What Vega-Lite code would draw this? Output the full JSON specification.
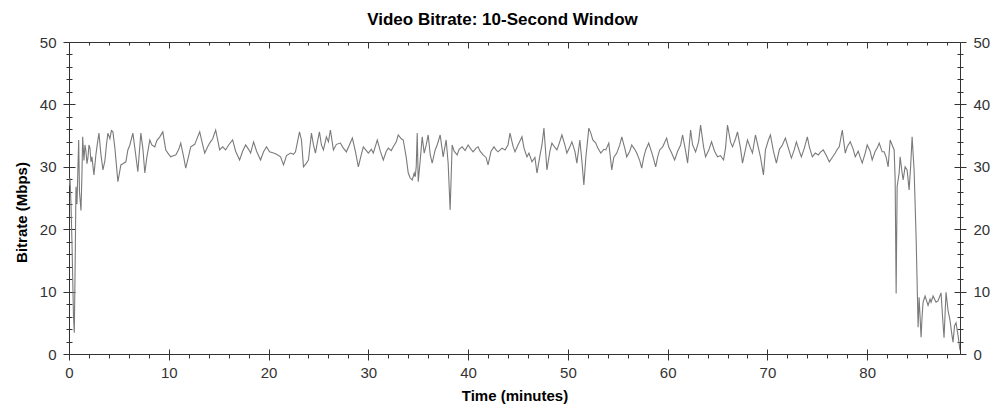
{
  "$schema": "https://vega.github.io/schema/vega-lite/v6.json",
  "autosize": {"type": "none"},
  "padding": {"left": 69, "top": 42, "right": 44, "bottom": 66},
  "width": 891,
  "height": 312,
  "background": "white",
  "config": {
    "font": "Liberation Sans",
    "view": {"stroke": null},
    "axis": {
      "domainColor": "#333333",
      "tickColor": "#333333",
      "labelColor": "#333333",
      "labelFont": "Liberation Sans",
      "labelFontSize": 15,
      "titleFont": "Liberation Sans",
      "titleFontSize": 15,
      "titleFontWeight": "bold",
      "titleColor": "#000000",
      "grid": false,
      "labelOverlap": false,
      "labelFlush": false
    }
  },
  "title": {"text": "Video Bitrate: 10-Second Window", "fontSize": 17, "fontWeight": "bold", "font": "Liberation Sans", "color": "#000000", "offset": 6, "dx": -12},
  "data": {"values": [
    {"t":0.0,"v":27},{"t":0.1,"v":28.2},{"t":0.2,"v":24},{"t":0.3,"v":17.8},{"t":0.45,"v":6},{"t":0.53,"v":3.4},{"t":0.6,"v":12},{"t":0.7,"v":26.8},{"t":0.8,"v":24},{"t":0.97,"v":34.3},{"t":1.05,"v":26},{"t":1.2,"v":23},{"t":1.3,"v":29},{"t":1.37,"v":34.8},{"t":1.5,"v":31},{"t":1.6,"v":33.5},{"t":1.7,"v":32.5},{"t":1.8,"v":30.5},{"t":1.9,"v":31.5},{"t":2.0,"v":33.5},{"t":2.1,"v":33},{"t":2.2,"v":30.8},{"t":2.3,"v":31.6},{"t":2.5,"v":28.7},{"t":2.7,"v":32},{"t":2.85,"v":33.8},{"t":3.0,"v":35.4},{"t":3.2,"v":32},{"t":3.4,"v":29.5},{"t":3.6,"v":31},{"t":3.75,"v":33.5},{"t":3.9,"v":35.4},{"t":4.1,"v":34.5},{"t":4.25,"v":35.8},{"t":4.4,"v":35.6},{"t":4.6,"v":33},{"t":4.9,"v":27.6},{"t":5.2,"v":30.3},{"t":5.4,"v":30.5},{"t":5.7,"v":30.8},{"t":5.9,"v":32.7},{"t":6.1,"v":33.5},{"t":6.4,"v":35.4},{"t":6.6,"v":33},{"t":6.9,"v":29.2},{"t":7.2,"v":35.4},{"t":7.4,"v":33},{"t":7.6,"v":29.0},{"t":7.8,"v":31.5},{"t":8.1,"v":34.3},{"t":8.3,"v":33.5},{"t":8.6,"v":33.2},{"t":8.8,"v":34.2},{"t":9.1,"v":34.8},{"t":9.4,"v":35.6},{"t":9.7,"v":32.7},{"t":10.0,"v":32.0},{"t":10.2,"v":31.6},{"t":10.5,"v":31.8},{"t":10.7,"v":31.9},{"t":11.0,"v":32.8},{"t":11.2,"v":33.8},{"t":11.5,"v":31.5},{"t":11.7,"v":29.8},{"t":12.0,"v":31.8},{"t":12.2,"v":33.2},{"t":12.6,"v":33.6},{"t":13.1,"v":35.6},{"t":13.4,"v":33.5},{"t":13.6,"v":32.2},{"t":13.9,"v":33.2},{"t":14.1,"v":33.8},{"t":14.4,"v":34.5},{"t":14.7,"v":35.9},{"t":15.1,"v":32.7},{"t":15.4,"v":33.2},{"t":15.7,"v":32.7},{"t":16.0,"v":33.5},{"t":16.4,"v":34.3},{"t":16.7,"v":32.5},{"t":17.1,"v":31.1},{"t":17.4,"v":32.5},{"t":17.7,"v":33.5},{"t":18.0,"v":32.8},{"t":18.2,"v":32.2},{"t":18.5,"v":34.0},{"t":18.8,"v":32.5},{"t":19.2,"v":31.1},{"t":19.5,"v":32.4},{"t":19.8,"v":33.2},{"t":20.1,"v":32.4},{"t":20.5,"v":32.2},{"t":20.8,"v":32.0},{"t":21.2,"v":31.6},{"t":21.5,"v":30.3},{"t":21.8,"v":31.8},{"t":22.2,"v":32.2},{"t":22.5,"v":32.0},{"t":22.7,"v":32.4},{"t":22.9,"v":34},{"t":23.1,"v":35.6},{"t":23.3,"v":34.3},{"t":23.5,"v":30.0},{"t":23.8,"v":30.6},{"t":24.0,"v":31.1},{"t":24.3,"v":35.4},{"t":24.5,"v":33.5},{"t":24.7,"v":32.2},{"t":24.9,"v":34},{"t":25.1,"v":35.6},{"t":25.3,"v":33.5},{"t":25.5,"v":32.7},{"t":25.8,"v":34.8},{"t":26.0,"v":34},{"t":26.2,"v":35.9},{"t":26.5,"v":32.7},{"t":26.8,"v":33.6},{"t":27.2,"v":33.8},{"t":27.5,"v":33},{"t":27.8,"v":32.4},{"t":28.1,"v":33.5},{"t":28.4,"v":34.6},{"t":28.7,"v":32.5},{"t":29.0,"v":30.0},{"t":29.3,"v":32},{"t":29.5,"v":33.2},{"t":29.8,"v":32.6},{"t":30.0,"v":32.2},{"t":30.3,"v":32.8},{"t":30.5,"v":32.2},{"t":30.9,"v":34.3},{"t":31.2,"v":32.5},{"t":31.5,"v":31.1},{"t":31.8,"v":32.5},{"t":32.0,"v":33.0},{"t":32.3,"v":32.6},{"t":32.5,"v":33.2},{"t":32.8,"v":34},{"t":33.0,"v":35.1},{"t":33.3,"v":34.5},{"t":33.5,"v":34.3},{"t":33.8,"v":31.5},{"t":34.0,"v":29.0},{"t":34.2,"v":28.2},{"t":34.4,"v":27.9},{"t":34.6,"v":29},{"t":34.7,"v":28.4},{"t":34.8,"v":30.0},{"t":34.9,"v":35.4},{"t":35.0,"v":27.6},{"t":35.2,"v":31},{"t":35.4,"v":34.8},{"t":35.6,"v":32.2},{"t":35.8,"v":33.5},{"t":36.0,"v":35.1},{"t":36.2,"v":32},{"t":36.4,"v":30.6},{"t":36.7,"v":32.7},{"t":36.9,"v":33.5},{"t":37.2,"v":35.1},{"t":37.5,"v":31.6},{"t":37.8,"v":34.3},{"t":38.0,"v":30.6},{"t":38.2,"v":23.1},{"t":38.4,"v":33.5},{"t":38.6,"v":32.5},{"t":38.9,"v":31.9},{"t":39.1,"v":32.8},{"t":39.4,"v":33.2},{"t":39.7,"v":32.6},{"t":40.0,"v":33.5},{"t":40.3,"v":32.8},{"t":40.5,"v":32.4},{"t":40.8,"v":33},{"t":41.0,"v":33.2},{"t":41.2,"v":32.5},{"t":41.5,"v":31.9},{"t":41.8,"v":31.5},{"t":42.0,"v":30.3},{"t":42.3,"v":32.5},{"t":42.6,"v":33.2},{"t":42.8,"v":32.7},{"t":43.0,"v":32.4},{"t":43.4,"v":33},{"t":43.7,"v":32.7},{"t":44.0,"v":33.5},{"t":44.2,"v":35.4},{"t":44.5,"v":33.3},{"t":44.7,"v":32.4},{"t":45.0,"v":33.5},{"t":45.4,"v":34.8},{"t":45.6,"v":33},{"t":45.9,"v":31.6},{"t":46.1,"v":32.2},{"t":46.4,"v":30.8},{"t":46.7,"v":31.5},{"t":46.9,"v":29.0},{"t":47.2,"v":31.8},{"t":47.4,"v":33.5},{"t":47.6,"v":36.2},{"t":47.9,"v":29.5},{"t":48.2,"v":32.5},{"t":48.4,"v":33.8},{"t":48.7,"v":33.1},{"t":48.9,"v":32.7},{"t":49.1,"v":33.6},{"t":49.4,"v":35.1},{"t":49.7,"v":33.5},{"t":49.9,"v":32.2},{"t":50.2,"v":33.2},{"t":50.4,"v":34.0},{"t":50.7,"v":32.5},{"t":50.9,"v":30.6},{"t":51.2,"v":34.3},{"t":51.4,"v":31},{"t":51.6,"v":27.1},{"t":51.8,"v":31.5},{"t":52.1,"v":36.2},{"t":52.3,"v":35.4},{"t":52.5,"v":34.3},{"t":52.8,"v":33.8},{"t":53.0,"v":33},{"t":53.3,"v":32.2},{"t":53.6,"v":32.8},{"t":53.8,"v":32.7},{"t":54.1,"v":33.8},{"t":54.4,"v":29.5},{"t":54.6,"v":31.5},{"t":54.9,"v":32.2},{"t":55.2,"v":33.5},{"t":55.4,"v":34.8},{"t":55.7,"v":33},{"t":55.9,"v":31.6},{"t":56.2,"v":32.5},{"t":56.4,"v":33.5},{"t":56.7,"v":32.8},{"t":56.9,"v":32.2},{"t":57.2,"v":31},{"t":57.4,"v":29.8},{"t":57.6,"v":31.5},{"t":57.8,"v":32.7},{"t":58.1,"v":33.8},{"t":58.4,"v":32.3},{"t":58.6,"v":31.2},{"t":58.8,"v":30.0},{"t":59.0,"v":31.6},{"t":59.2,"v":32.7},{"t":59.5,"v":33.2},{"t":59.9,"v":34.6},{"t":60.1,"v":33.2},{"t":60.4,"v":32.2},{"t":60.7,"v":31.1},{"t":61.0,"v":32.5},{"t":61.3,"v":33.5},{"t":61.5,"v":35.1},{"t":61.8,"v":32.5},{"t":62.0,"v":30.6},{"t":62.3,"v":35.9},{"t":62.5,"v":33.5},{"t":62.8,"v":32.4},{"t":63.1,"v":34},{"t":63.3,"v":36.7},{"t":63.6,"v":33.2},{"t":63.8,"v":31.6},{"t":64.1,"v":32.6},{"t":64.4,"v":34.0},{"t":64.7,"v":32.5},{"t":65.0,"v":31.6},{"t":65.3,"v":31.8},{"t":65.6,"v":31.1},{"t":65.8,"v":33},{"t":66.0,"v":36.7},{"t":66.3,"v":34},{"t":66.5,"v":33.2},{"t":66.8,"v":34.5},{"t":67.0,"v":35.6},{"t":67.3,"v":33},{"t":67.5,"v":30.6},{"t":67.8,"v":32.8},{"t":68.0,"v":34.3},{"t":68.3,"v":33},{"t":68.5,"v":32.2},{"t":68.8,"v":35.1},{"t":69.1,"v":33},{"t":69.3,"v":31.6},{"t":69.6,"v":28.7},{"t":69.8,"v":32.7},{"t":70.1,"v":34.3},{"t":70.3,"v":35.1},{"t":70.6,"v":32.5},{"t":70.9,"v":30.6},{"t":71.2,"v":32.8},{"t":71.5,"v":33.5},{"t":71.8,"v":34.6},{"t":72.1,"v":33},{"t":72.4,"v":31.4},{"t":72.7,"v":32.8},{"t":72.9,"v":34.0},{"t":73.2,"v":32.5},{"t":73.4,"v":31.6},{"t":73.7,"v":33},{"t":74.0,"v":34.8},{"t":74.2,"v":33.2},{"t":74.5,"v":31.6},{"t":74.8,"v":32.2},{"t":75.1,"v":31.9},{"t":75.3,"v":32.3},{"t":75.6,"v":32.7},{"t":75.9,"v":31.8},{"t":76.2,"v":30.8},{"t":76.5,"v":31.5},{"t":76.8,"v":32.2},{"t":77.0,"v":32.8},{"t":77.2,"v":33.2},{"t":77.5,"v":35.9},{"t":77.8,"v":32.2},{"t":78.0,"v":33.2},{"t":78.3,"v":34.0},{"t":78.6,"v":32.8},{"t":78.8,"v":31.6},{"t":79.1,"v":32.5},{"t":79.3,"v":31.5},{"t":79.5,"v":30.6},{"t":79.8,"v":32.2},{"t":80.0,"v":33.5},{"t":80.3,"v":32.5},{"t":80.5,"v":31.1},{"t":80.8,"v":32.5},{"t":81.0,"v":33},{"t":81.2,"v":33.8},{"t":81.5,"v":32.4},{"t":81.7,"v":32.4},{"t":81.9,"v":31.5},{"t":82.1,"v":30.0},{"t":82.3,"v":34.3},{"t":82.5,"v":33.5},{"t":82.7,"v":32.7},{"t":82.8,"v":28},{"t":82.9,"v":9.7},{"t":83.0,"v":26.8},{"t":83.2,"v":29},{"t":83.3,"v":31.6},{"t":83.5,"v":29},{"t":83.6,"v":27.9},{"t":83.8,"v":30},{"t":84.0,"v":29.5},{"t":84.2,"v":26.3},{"t":84.35,"v":30},{"t":84.5,"v":34.8},{"t":84.7,"v":29.5},{"t":84.9,"v":18.8},{"t":85.1,"v":4.3},{"t":85.2,"v":9.1},{"t":85.4,"v":2.7},{"t":85.5,"v":6},{"t":85.6,"v":8.3},{"t":85.8,"v":9.3},{"t":86.1,"v":7.8},{"t":86.3,"v":8.8},{"t":86.4,"v":8.3},{"t":86.6,"v":9.3},{"t":86.9,"v":8.3},{"t":87.1,"v":8.5},{"t":87.4,"v":9.8},{"t":87.55,"v":6},{"t":87.7,"v":2.6},{"t":87.9,"v":9.9},{"t":88.1,"v":7},{"t":88.3,"v":5.4},{"t":88.45,"v":3.5},{"t":88.6,"v":1.9},{"t":88.75,"v":4.5},{"t":88.9,"v":5.0},{"t":89.1,"v":3},{"t":89.3,"v":0.6}
  ]},
  "resolve": {"axis": {"x": "independent", "y": "independent"}},
  "layer": [
    {
      "mark": {"type": "line", "color": "#7a7a7a", "strokeWidth": 1.1, "clip": true},
      "encoding": {
        "x": {"field": "t", "type": "quantitative", "scale": {"domain": [0, 89.3], "nice": false, "zero": false},
          "axis": {"orient": "bottom", "title": "Time (minutes)", "values": [0,2,4,6,8,10,12,14,16,18,20,22,24,26,28,30,32,34,36,38,40,42,44,46,48,50,52,54,56,58,60,62,64,66,68,70,72,74,76,78,80,82,84,86,88],
            "labelExpr": "datum.value % 10 === 0 ? datum.label : ''", "tickSize": {"condition": {"test": "datum.value % 10 === 0", "value": 6}, "value": 4}, "labelPadding": 5, "titlePadding": 8}},
        "y": {"field": "v", "type": "quantitative", "scale": {"domain": [0, 50], "nice": false},
          "axis": {"orient": "left", "title": "Bitrate (Mbps)", "values": [0,2,4,6,8,10,12,14,16,18,20,22,24,26,28,30,32,34,36,38,40,42,44,46,48,50],
            "labelExpr": "datum.value % 10 === 0 ? datum.label : ''", "tickSize": {"condition": {"test": "datum.value % 10 === 0", "value": 6}, "value": 3}, "labelPadding": 7, "titlePadding": 10, "titleY": 170}}
      }
    },
    {
      "mark": {"type": "line", "strokeOpacity": 0},
      "encoding": {
        "x": {"field": "t", "type": "quantitative", "scale": {"domain": [0, 89.3], "nice": false, "zero": false},
          "axis": {"orient": "bottom", "title": null, "labels": false, "domain": false, "values": [10,20,30,40,50,60,70,80], "tickSize": -5}},
        "y": {"field": "v", "type": "quantitative", "scale": {"domain": [0, 50], "nice": false},
          "axis": {"orient": "left", "title": null, "labels": false, "domain": false, "values": [0,2,4,6,8,10,12,14,16,18,20,22,24,26,28,30,32,34,36,38,40,42,44,46,48,50],
            "tickSize": {"condition": {"test": "datum.value % 10 === 0", "value": -6}, "value": -3}}}
      }
    },
    {
      "mark": {"type": "line", "strokeOpacity": 0},
      "encoding": {
        "x": {"field": "t", "type": "quantitative", "scale": {"domain": [0, 89.3], "nice": false, "zero": false},
          "axis": {"orient": "top", "title": null, "labels": false, "values": [0,2,4,6,8,10,12,14,16,18,20,22,24,26,28,30,32,34,36,38,40,42,44,46,48,50,52,54,56,58,60,62,64,66,68,70,72,74,76,78,80,82,84,86,88],
            "tickSize": {"condition": {"test": "datum.value % 10 === 0", "value": -6}, "value": -3}}},
        "y": {"field": "v", "type": "quantitative", "scale": {"domain": [0, 50], "nice": false},
          "axis": {"orient": "right", "title": null, "values": [0,2,4,6,8,10,12,14,16,18,20,22,24,26,28,30,32,34,36,38,40,42,44,46,48,50],
            "labelExpr": "datum.value % 10 === 0 ? datum.label : ''", "tickSize": {"condition": {"test": "datum.value % 10 === 0", "value": 6}, "value": 3}, "labelPadding": 7}}
      }
    },
    {
      "mark": {"type": "line", "strokeOpacity": 0},
      "encoding": {
        "x": {"field": "t", "type": "quantitative", "scale": {"domain": [0, 89.3], "nice": false, "zero": false}, "axis": null},
        "y": {"field": "v", "type": "quantitative", "scale": {"domain": [0, 50], "nice": false},
          "axis": {"orient": "right", "title": null, "labels": false, "domain": false, "values": [0,2,4,6,8,10,12,14,16,18,20,22,24,26,28,30,32,34,36,38,40,42,44,46,48,50],
            "tickSize": {"condition": {"test": "datum.value % 10 === 0", "value": -6}, "value": -3}}}
      }
    }
  ]
}
